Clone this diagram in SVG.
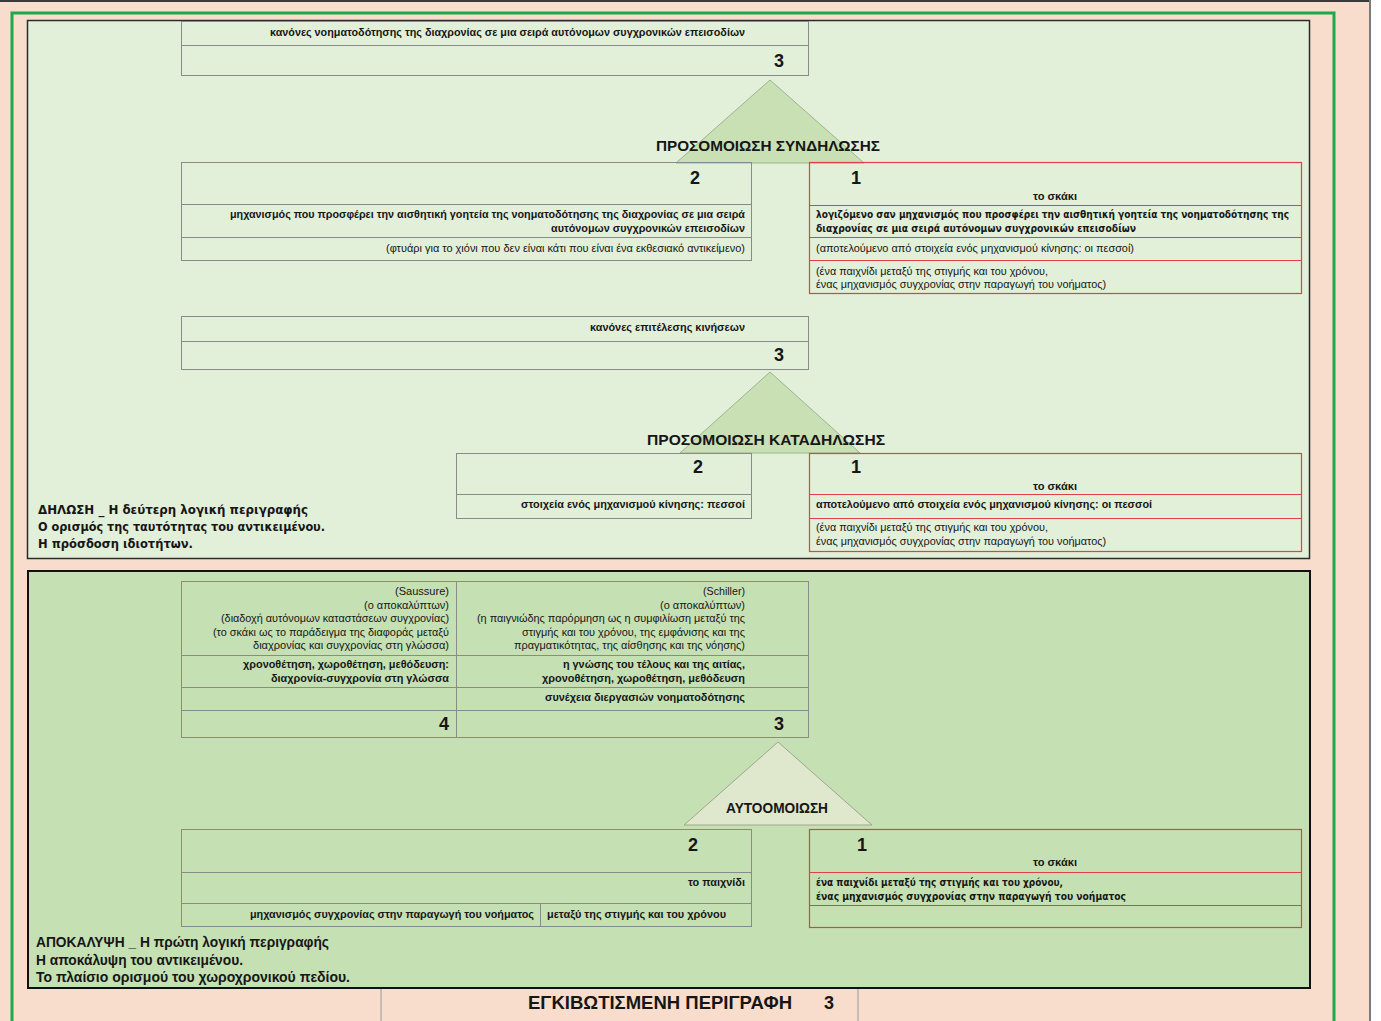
<svg xmlns="http://www.w3.org/2000/svg" width="1381" height="1021" viewBox="0 0 1381 1021">
  <defs>
    <style>
      .cell { fill: none; stroke: #8a8a8a; stroke-width: 1; }
      .red { fill: none; stroke: #e0404a; stroke-width: 1.2; }
      .tri { fill: #c8e0b4; stroke: #9cb58f; stroke-width: 1; }
      .tri2 { fill: #dfe7cd; stroke: #9ea78d; stroke-width: 1; }
      text { font-family: "Liberation Sans", Arial, sans-serif; fill: #161616; }
      .t { font-size: 11px; }
      .b { font-weight: bold; }
      .w { font-family: "DejaVu Sans", Verdana, sans-serif; font-size: 10px; font-weight: bold; }
      .num { font-size: 18px; font-weight: bold; }
      .lbl { font-size: 15.5px; font-weight: bold; }
      .desc { font-family: "DejaVu Sans", Verdana, sans-serif; font-size: 12.5px; font-weight: bold; }
      .desc2 { font-size: 14px; font-weight: bold; }
    </style>
  </defs>

  <!-- page background and frame -->
  <rect x="0" y="0" width="1381" height="1021" fill="#ffffff"/>
  <rect x="0" y="0" width="1370" height="1021" fill="#f9ddcc"/>
  <line x1="0" y1="1" x2="1370" y2="1" stroke="#3a3a3a" stroke-width="2"/>
  <line x1="1370" y1="0" x2="1370" y2="1021" stroke="#7a7a7a" stroke-width="2"/>
  <rect x="12" y="13" width="1322" height="1030" fill="none" stroke="#1fa84c" stroke-width="3"/>

  <!-- upper panel: declaration -->
  <g id="panel-declaration">
    <rect x="27.5" y="20.5" width="1282" height="538" fill="#e2efd9" stroke="#2a2a2a" stroke-width="1.5"/>
    <text class="desc" x="38" y="514" textLength="270" lengthAdjust="spacingAndGlyphs">ΔΗΛΩΣΗ _ Η δεύτερη λογική περιγραφής</text>
    <text class="desc" x="38" y="531" textLength="287" lengthAdjust="spacingAndGlyphs">Ο ορισμός της ταυτότητας του αντικειμένου.</text>
    <text class="desc" x="38" y="548" textLength="155" lengthAdjust="spacingAndGlyphs">Η πρόσδοση ιδιοτήτων.</text>
  </g>

  <!-- lower panel: revelation -->
  <g id="panel-revelation">
    <rect x="28" y="571" width="1282" height="417" fill="#c5e0b3" stroke="#111111" stroke-width="2"/>
    <text class="desc2" x="36" y="947" textLength="293" lengthAdjust="spacingAndGlyphs">ΑΠΟΚΑΛΥΨΗ _ Η πρώτη λογική περιγραφής</text>
    <text class="desc2" x="36" y="965" textLength="207" lengthAdjust="spacingAndGlyphs">Η αποκάλυψη του αντικειμένου.</text>
    <text class="desc2" x="36" y="982" textLength="314" lengthAdjust="spacingAndGlyphs">Το πλαίσιο  ορισμού του χωροχρονικού πεδίου.</text>
  </g>

  <!-- footer caption -->
  <g id="footer">
    <line x1="381" y1="989" x2="381" y2="1021" stroke="#9a9a9a" stroke-width="1"/>
    <line x1="858" y1="989" x2="858" y2="1021" stroke="#9a9a9a" stroke-width="1"/>
    <text x="528" y="1009" font-size="18" font-weight="bold" textLength="264" lengthAdjust="spacingAndGlyphs">ΕΓΚΙΒΩΤΙΣΜΕΝΗ ΠΕΡΙΓΡΑΦΗ</text>
    <text x="829" y="1009" font-size="18" font-weight="bold" text-anchor="middle">3</text>
  </g>

  <!-- triangles -->
  <g id="tri-syndilosi">
    <polygon class="tri" points="770,80 676,163 864,163"/>
    <text class="lbl" x="656" y="151" textLength="224" lengthAdjust="spacingAndGlyphs">ΠΡΟΣΟΜΟΙΩΣΗ ΣΥΝΔΗΛΩΣΗΣ</text>
  </g>
  <g id="tri-katadilosi">
    <polygon class="tri" points="770,372 680,453 860,453"/>
    <text class="lbl" x="647" y="445" textLength="238" lengthAdjust="spacingAndGlyphs">ΠΡΟΣΟΜΟΙΩΣΗ ΚΑΤΑΔΗΛΩΣΗΣ</text>
  </g>
  <g id="tri-autoomoiosi">
    <polygon class="tri2" points="778,742 684,825 872,825"/>
    <text class="lbl" x="726" y="813" textLength="102" lengthAdjust="spacingAndGlyphs">ΑΥΤΟΟΜΟΙΩΣΗ</text>
  </g>

  <!-- level 3: rules of meaning -->
  <g id="box-rules-meaning">
    <rect class="cell" x="181.5" y="21.5" width="627" height="54"/>
    <line class="cell" x1="181.5" y1="45.5" x2="808.5" y2="45.5"/>
    <text class="t b" x="745" y="36" text-anchor="end" textLength="475" lengthAdjust="spacingAndGlyphs">κανόνες νοηματοδότησης της διαχρονίας σε μια σειρά αυτόνομων συγχρονικών επεισοδίων</text>
    <text class="num" x="779" y="67" text-anchor="middle">3</text>
  </g>

  <!-- level 2: mechanism -->
  <g id="box-mechanism">
    <rect class="cell" x="181.5" y="162.5" width="570" height="98"/>
    <line class="cell" x1="181.5" y1="204.5" x2="751.5" y2="204.5"/>
    <line class="cell" x1="181.5" y1="237.5" x2="751.5" y2="237.5"/>
    <text class="num" x="695" y="184" text-anchor="middle">2</text>
    <text class="t b" x="745" y="218" text-anchor="end" textLength="515" lengthAdjust="spacingAndGlyphs">μηχανισμός που προσφέρει την αισθητική γοητεία της νοηματοδότησης της διαχρονίας σε μια σειρά</text>
    <text class="t b" x="745" y="232" text-anchor="end" textLength="194" lengthAdjust="spacingAndGlyphs">αυτόνομων συγχρονικών επεισοδίων</text>
    <text class="t" x="745" y="252" text-anchor="end" textLength="359" lengthAdjust="spacingAndGlyphs">(φτυάρι για το χιόνι  που δεν είναι  κάτι που είναι  ένα εκθεσιακό αντικείμενο)</text>
  </g>

  <!-- level 1: chess as mechanism -->
  <g id="box-chess-mechanism">
    <rect class="red" x="809.5" y="162.5" width="492" height="131"/>
    <line class="red" x1="809.5" y1="205.5" x2="1301.5" y2="205.5"/>
    <line class="red" x1="809.5" y1="237.5" x2="1301.5" y2="237.5"/>
    <line class="red" x1="809.5" y1="260.5" x2="1301.5" y2="260.5"/>
    <text class="num" x="856" y="184" text-anchor="middle">1</text>
    <text class="t b" x="1055" y="200" text-anchor="middle" textLength="44" lengthAdjust="spacingAndGlyphs">το σκάκι</text>
    <text class="w" x="816" y="218" textLength="473" lengthAdjust="spacingAndGlyphs">λογιζόμενο σαν μηχανισμός που προσφέρει την αισθητική γοητεία της νοηματοδότησης της</text>
    <text class="w" x="816" y="232" textLength="320" lengthAdjust="spacingAndGlyphs">διαχρονίας σε μια σειρά αυτόνομων συγχρονικών επεισοδίων</text>
    <text class="t" x="816" y="252" textLength="318" lengthAdjust="spacingAndGlyphs">(αποτελούμενο από στοιχεία ενός μηχανισμού κίνησης:  οι πεσσοί)</text>
    <text class="t" x="816" y="275" textLength="232" lengthAdjust="spacingAndGlyphs">(ένα παιχνίδι  μεταξύ της στιγμής και του χρόνου,</text>
    <text class="t" x="816" y="288" textLength="290" lengthAdjust="spacingAndGlyphs">ένας μηχανισμός συγχρονίας στην παραγωγή του νοήματος)</text>
  </g>

  <!-- level 3: rules of moves -->
  <g id="box-rules-moves">
    <rect class="cell" x="181.5" y="316.5" width="627" height="53"/>
    <line class="cell" x1="181.5" y1="341.5" x2="808.5" y2="341.5"/>
    <text class="t b" x="745" y="331" text-anchor="end" textLength="155" lengthAdjust="spacingAndGlyphs">κανόνες επιτέλεσης κινήσεων</text>
    <text class="num" x="779" y="361" text-anchor="middle">3</text>
  </g>

  <!-- level 2: pieces -->
  <g id="box-pieces">
    <rect class="cell" x="456.5" y="453.5" width="295" height="65"/>
    <line class="cell" x1="456.5" y1="494.5" x2="751.5" y2="494.5"/>
    <text class="num" x="698" y="473" text-anchor="middle">2</text>
    <text class="t b" x="745" y="508" text-anchor="end" textLength="224" lengthAdjust="spacingAndGlyphs">στοιχεία ενός μηχανισμού κίνησης: πεσσοί</text>
  </g>

  <!-- level 1: chess as pieces -->
  <g id="box-chess-pieces">
    <rect class="red" x="809.5" y="453.5" width="492" height="98"/>
    <line class="red" x1="809.5" y1="494.5" x2="1301.5" y2="494.5"/>
    <line class="red" x1="809.5" y1="518.5" x2="1301.5" y2="518.5"/>
    <text class="num" x="856" y="473" text-anchor="middle">1</text>
    <text class="t b" x="1055" y="490" text-anchor="middle" textLength="44" lengthAdjust="spacingAndGlyphs">το σκάκι</text>
    <text class="t b" x="816" y="508" textLength="336" lengthAdjust="spacingAndGlyphs">αποτελούμενο από στοιχεία ενός μηχανισμού κίνησης: οι πεσσοί</text>
    <text class="t" x="816" y="531" textLength="232" lengthAdjust="spacingAndGlyphs">(ένα παιχνίδι  μεταξύ της στιγμής και του χρόνου,</text>
    <text class="t" x="816" y="545" textLength="290" lengthAdjust="spacingAndGlyphs">ένας μηχανισμός συγχρονίας στην παραγωγή του νοήματος)</text>
  </g>

  <!-- levels 4 and 3: Saussure / Schiller -->
  <g id="box-saussure-schiller">
    <rect class="cell" x="181.5" y="581.5" width="627" height="156"/>
    <line class="cell" x1="456.5" y1="581.5" x2="456.5" y2="737.5"/>
    <line class="cell" x1="181.5" y1="655.5" x2="808.5" y2="655.5"/>
    <line class="cell" x1="181.5" y1="687.5" x2="808.5" y2="687.5"/>
    <line class="cell" x1="181.5" y1="710.5" x2="808.5" y2="710.5"/>
    <text class="t" x="449" y="595" text-anchor="end" textLength="54" lengthAdjust="spacingAndGlyphs">(Saussure)</text>
    <text class="t" x="449" y="609" text-anchor="end" textLength="85" lengthAdjust="spacingAndGlyphs">(ο αποκαλύπτων)</text>
    <text class="t" x="449" y="622" text-anchor="end" textLength="228" lengthAdjust="spacingAndGlyphs">(διαδοχή αυτόνομων καταστάσεων συγχρονίας)</text>
    <text class="t" x="449" y="636" text-anchor="end" textLength="236" lengthAdjust="spacingAndGlyphs">(το σκάκι ως το παράδειγμα της διαφοράς μεταξύ</text>
    <text class="t" x="449" y="649" text-anchor="end" textLength="196" lengthAdjust="spacingAndGlyphs">διαχρονίας  και συγχρονίας στη γλώσσα)</text>
    <text class="t b" x="449" y="668" text-anchor="end" textLength="206" lengthAdjust="spacingAndGlyphs">χρονοθέτηση, χωροθέτηση, μεθόδευση:</text>
    <text class="t b" x="449" y="682" text-anchor="end" textLength="178" lengthAdjust="spacingAndGlyphs">διαχρονία-συγχρονία στη γλώσσα</text>
    <text class="num" x="444" y="730" text-anchor="middle">4</text>
    <text class="t" x="745" y="595" text-anchor="end" textLength="42" lengthAdjust="spacingAndGlyphs">(Schiller)</text>
    <text class="t" x="745" y="609" text-anchor="end" textLength="85" lengthAdjust="spacingAndGlyphs">(ο αποκαλύπτων)</text>
    <text class="t" x="745" y="622" text-anchor="end" textLength="268" lengthAdjust="spacingAndGlyphs">(η παιγνιώδης  παρόρμηση ως η συμφιλίωση μεταξύ της</text>
    <text class="t" x="745" y="636" text-anchor="end" textLength="223" lengthAdjust="spacingAndGlyphs">στιγμής και του χρόνου, της εμφάνισης και της</text>
    <text class="t" x="745" y="649" text-anchor="end" textLength="231" lengthAdjust="spacingAndGlyphs">πραγματικότητας, της αίσθησης και της νόησης)</text>
    <text class="t b" x="745" y="668" text-anchor="end" textLength="182" lengthAdjust="spacingAndGlyphs">η γνώσης του τέλους και της αιτίας,</text>
    <text class="t b" x="745" y="682" text-anchor="end" textLength="203" lengthAdjust="spacingAndGlyphs">χρονοθέτηση, χωροθέτηση, μεθόδευση</text>
    <text class="t b" x="745" y="701" text-anchor="end" textLength="200" lengthAdjust="spacingAndGlyphs">συνέχεια διεργασιών νοηματοδότησης</text>
    <text class="num" x="779" y="730" text-anchor="middle">3</text>
  </g>

  <!-- level 2: the game -->
  <g id="box-game">
    <rect class="cell" x="181.5" y="829.5" width="570" height="97"/>
    <line class="cell" x1="181.5" y1="872.5" x2="751.5" y2="872.5"/>
    <line class="cell" x1="181.5" y1="903.5" x2="751.5" y2="903.5"/>
    <line class="cell" x1="540.5" y1="903.5" x2="540.5" y2="926.5"/>
    <text class="num" x="693" y="851" text-anchor="middle">2</text>
    <text class="t b" x="745" y="886" text-anchor="end" textLength="57" lengthAdjust="spacingAndGlyphs">το παιχνίδι</text>
    <text class="t b" x="534" y="918" text-anchor="end" textLength="284" lengthAdjust="spacingAndGlyphs">μηχανισμός συγχρονίας στην παραγωγή του νοήματος</text>
    <text class="t b" x="547" y="918" textLength="179" lengthAdjust="spacingAndGlyphs">μεταξύ της στιγμής και του χρόνου</text>
  </g>

  <!-- level 1: chess as game -->
  <g id="box-chess-game">
    <rect class="red" x="809.5" y="829.5" width="492" height="98"/>
    <line class="red" x1="809.5" y1="872.5" x2="1301.5" y2="872.5"/>
    <line class="red" x1="809.5" y1="905.5" x2="1301.5" y2="905.5"/>
    <text class="num" x="862" y="851" text-anchor="middle">1</text>
    <text class="t b" x="1055" y="866" text-anchor="middle" textLength="44" lengthAdjust="spacingAndGlyphs">το σκάκι</text>
    <text class="w" x="816" y="886" textLength="247" lengthAdjust="spacingAndGlyphs">ένα παιχνίδι μεταξύ της στιγμής και του χρόνου,</text>
    <text class="w" x="816" y="900" textLength="310" lengthAdjust="spacingAndGlyphs">ένας μηχανισμός συγχρονίας στην παραγωγή του νοήματος</text>
  </g>

  <g id="connectors"/>
</svg>
